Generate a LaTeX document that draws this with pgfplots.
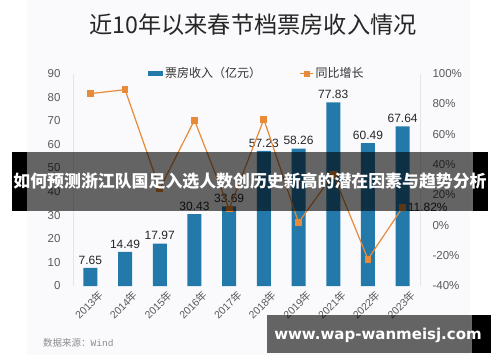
\documentclass[border=0pt]{standalone}
\usepackage{fontspec}
\usepackage{pgfplots}
\pgfplotsset{compat=1.18}
\setmainfont{Liberation Sans}
\newfontfamily\cjk{Noto Sans CJK SC}
\newfontfamily\dvs{DejaVu Sans}
\newfontfamily\mono{Liberation Mono}
\definecolor{barblue}{RGB}{35,121,170}
\definecolor{lineor}{RGB}{232,138,55}
\definecolor{ticktxt}{RGB}{90,90,90}
\definecolor{cardbg}{RGB}{250,250,252}
\begin{document}
\begin{tikzpicture}[x=1pt,y=1pt]
\useasboundingbox (0,0) rectangle (500,362);
\fill[white] (0,0) rectangle (500,362);
\fill[cardbg] (27,7) rectangle (470,362);
\node[font=\cjk\fontsize{23.2}{26}\selectfont, text=black!85] at (253,337) {近10年以来春节档票房收入情况};

\begin{axis}[at={(73pt,76pt)}, anchor=south west, scale only axis,
  width=347pt, height=212.4pt,
  xmin=-0.5, xmax=9.5, ymin=0, ymax=90, ytick={0,10,...,90},
  xtick={0,...,9},
  xticklabels={{2013{\cjk 年}},{2014{\cjk 年}},{2015{\cjk 年}},{2016{\cjk 年}},{2017{\cjk 年}},{2018{\cjk 年}},{2019{\cjk 年}},{2021{\cjk 年}},{2022{\cjk 年}},{2023{\cjk 年}}},
  axis y line*=left, axis x line*=bottom,
  x axis line style={draw=none}, y axis line style={draw=black!10},
  major tick length=0pt,
  /pgf/number format/assume math mode=true,
  yticklabel style={font=\fontsize{11.5}{13}\selectfont, text=ticktxt, xshift=-9pt},
  xticklabel style={font=\fontsize{10.5}{12}\selectfont, text=ticktxt, rotate=45, anchor=north east, xshift=6pt, yshift=-4pt},
  legend style={at={(0.53,1)}, anchor=center, draw=none, fill=none, legend columns=2,
    font=\cjk\fontsize{12}{14}\selectfont, text=black!80,
    /tikz/every even column/.append style={column sep=36pt}},
  legend cell align=left,
]
\addplot[ybar, bar width=14pt, fill=barblue, draw=none,
  legend image code/.code={\fill[barblue] (0pt,-2.5pt) rectangle (15pt,2.5pt);},
  point meta=explicit symbolic,
  nodes near coords,
  every node near coord/.append style={font=\fontsize{12}{14}\selectfont, text=black!85}]
  coordinates {(0,7.65) [7.65] (1,14.49) [14.49] (2,17.97) [17.97] (3,30.43) [30.43] (4,33.69) [33.69] (5,57.23) [57.23] (6,58.26) [58.26] (7,77.83) [77.83] (8,60.49) [60.49] (9,67.64) [67.64]};
\addlegendentry{票房收入（亿元）}
\addlegendimage{legend image code/.code={\draw[lineor,line width=1.5pt] (0pt,0pt) -- (13pt,0pt); \fill[lineor] (4pt,-2.5pt) rectangle (9pt,2.5pt);}}
\addlegendentry{同比增长}
\end{axis}

\begin{axis}[at={(73pt,76pt)}, anchor=south west, scale only axis,
  width=347pt, height=212.4pt,
  xmin=-0.5, xmax=9.5, ymin=-40, ymax=100, ytick={-40,-20,...,100},
  axis y line*=right, axis x line=none,
  y axis line style={draw=black!10},
  major tick length=0pt, clip mode=individual,
  /pgf/number format/assume math mode=true,
  yticklabel={\pgfmathprintnumber{\tick}\%},
  yticklabel style={font=\fontsize{11.5}{13}\selectfont, text=ticktxt, xshift=9pt},
]
\addplot[lineor, line width=1.2pt, mark=square*, mark size=2.8pt, mark options={fill=lineor, draw=lineor}]
  coordinates {(0,86.8) (1,89.4) (2,24.0) (3,69.3) (4,10.7) (5,69.9) (6,1.8) (7,33.6) (8,-22.3) (9,11.82)};
\node[anchor=west, font=\fontsize{12}{14}\selectfont, text=black!85, inner sep=1pt, xshift=4pt] at (axis cs:9,11.82) {11.82\%};
\end{axis}

% banner overlay
\fill[black] (12,151) rectangle (27,210);
\fill[black] (473,151) rectangle (488,210);
\fill[black, opacity=0.6] (27,151) rectangle (473,210);
\node[font=\cjk\bfseries\fontsize{16.9}{19}\selectfont, text=white] at (250,181) {如何预测浙江队国足入选人数创历史新高的潜在因素与趋势分析};

% source
\node[anchor=west, font=\cjk\fontsize{9.5}{11}\selectfont, text=black!45, inner sep=0pt] at (43,19) {数据来源：{\mono Wind}};

% watermark
\fill[black, opacity=0.6] (267,9) rectangle (472,47);
\fill[black] (472,9) rectangle (491,47);
\node[font=\dvs\bfseries\fontsize{15}{17}\selectfont, text=white] at (378,27) {www.wap-wanmeisj.com};
\end{tikzpicture}
\end{document}
